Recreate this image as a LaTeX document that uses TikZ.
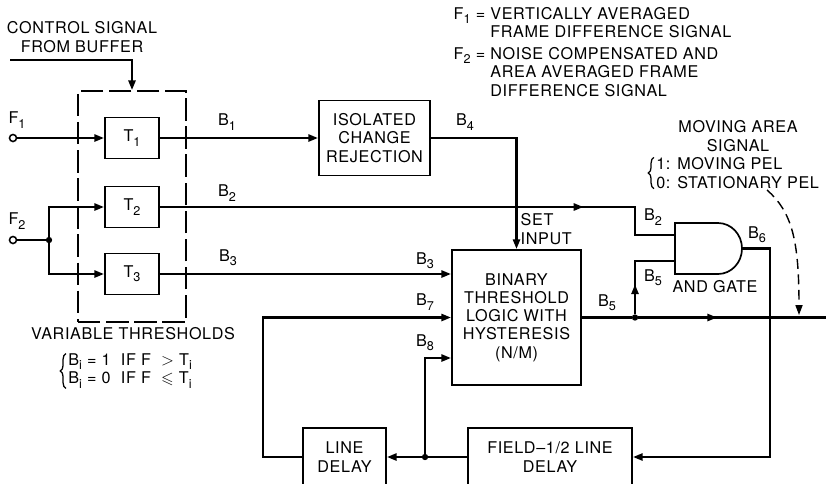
\documentclass[tikz,border=0pt]{standalone}
\usepackage{amssymb}
\usepackage{fontspec}
\setmainfont{TeX Gyre Heros}[LetterSpace=4]
\usetikzlibrary{arrows.meta,decorations.markings,decorations.pathreplacing,calc}

\newcommand{\lowidx}[1]{\raisebox{-0.5ex}{\fontsize{9}{9}\selectfont #1}}

\begin{document}
\begin{tikzpicture}[x=0.025cm, y=-0.025cm, font=\fontsize{11.5}{13}\selectfont]
% Define common styles
\tikzset{
    thresh/.style={draw, line width=1.2pt, minimum width=1.35cm, minimum height=1.025cm, inner sep=0pt},
    block/.style={draw, line width=1.2pt, align=center, inner sep=0pt},
    sig/.style={line width=2pt},
    arrow/.style={sig, -{Triangle[length=7pt, width=5pt]}},
    midarrow/.style={sig, postaction={decorate},
        decoration={markings, mark=at position #1 with {\arrow{Triangle[length=7pt, width=5pt]}}}},
    label/.style={align=center, inner sep=1pt},
    cases/.style={anchor=west, align=left, inner sep=0pt},
    curly/.style={line width=0.9pt, decorate, decoration={brace, amplitude=4pt}},
    jdot/.style={circle, fill, inner sep=0pt, minimum size=4.5pt},
    port/.style={circle, draw, line width=1.1pt, fill=white, inner sep=0pt, minimum size=5pt}
}
\useasboundingbox (0,0) rectangle (828,483);

% Control signal and threshold bank
\node[label] (ctl) at (82,37) {CONTROL SIGNAL\\FROM BUFFER};
\node[draw, line width=1.1pt, dash pattern=on 16pt off 4pt, minimum width=2.7cm, minimum height=5.775cm] (tbox) at (132,206.5) {};
\coordinate (ctlstart) at (10,60);
\draw[arrow] (ctlstart) -| (tbox.north);

\node[thresh] (t1) at (132,138) {T\lowidx1};
\node[thresh] (t2) at (132,207) {T\lowidx2};
\node[thresh] (t3) at (132,274) {T\lowidx3};

\node[label] (vt) at (133,334) {VARIABLE THRESHOLDS};
\node[cases] (vtcases) at (68,371) {B\lowidx{i} = 1\ \ IF F\ \ $>$ T\lowidx{i}\\B\lowidx{i} = 0\ \ IF F\ \ $\leqslant$ T\lowidx{i}};
\draw[curly] ([xshift=-1.5pt]vtcases.south west) -- ([xshift=-1.5pt]vtcases.north west);

% Inputs
\node[port] (f1) at (13,138) {};
\node[port] (f2) at (13,240) {};
\node[label] (f1lbl) at (17,120) {F\lowidx1};
\node[label] (f2lbl) at (17,221) {F\lowidx2};
\node[jdot] (jf2) at (49,240) {};

\draw[arrow] (f1) -- (t1);
\draw[sig] (f2) -- (jf2);
\draw[arrow] (jf2) |- (t2);
\draw[arrow] (jf2) |- (t3);

% Definitions
\node[label, anchor=north west] (def1) at (452,5) {\begin{tabular}{@{}l@{ }l@{}}F\lowidx1 =& VERTICALLY AVERAGED\\ & FRAME DIFFERENCE SIGNAL\end{tabular}};
\node[label, anchor=north west] (def2) at (452,45) {\begin{tabular}{@{}l@{ }l@{}}F\lowidx2 =& NOISE COMPENSATED AND\\ & AREA AVERAGED FRAME\\ & DIFFERENCE SIGNAL\end{tabular}};

% Blocks
\node[block, minimum width=2.775cm, minimum height=1.875cm] (iso) at (374.5,138) {ISOLATED\\CHANGE\\REJECTION};
\node[block, minimum width=3.225cm, minimum height=3.375cm] (bt) at (516.5,317.5) {BINARY\\THRESHOLD\\LOGIC WITH\\HYSTERESIS\\(N/M)};
\node[block, minimum width=2.075cm, minimum height=1.45cm] (ld) at (344.5,457) {LINE\\DELAY};
\node[block, minimum width=4.1cm, minimum height=1.45cm] (field) at (550,457) {FIELD--1/2 LINE\\DELAY};

% AND gate
\draw[line width=1.2pt] (675,223) -- (718,223) arc[start angle=90, end angle=-90, x radius=0.6cm, y radius=0.6375cm] -- (675,274) -- cycle;
\coordinate (gin1) at (675,235);
\coordinate (gin2) at (675,261);
\coordinate (gout) at (742,248.5);
\node[label] (andlbl) at (715,287) {AND GATE};

% Signal paths
\draw[arrow] (t1) -- (iso);
\draw[arrow] (iso.east) -| (bt.north);
\draw[arrow] (t3.east) -- (t3.east -| bt.west);

\node[jdot] (j5) at (635,317.5) {};
\coordinate (sigout) at (826,317.5);
\draw[sig] (bt.east) -- (j5);
\draw[midarrow=0.42] (j5) -- (sigout);
\draw[midarrow=0.32] (j5) |- (gin2);
\draw[midarrow=0.78] (t2.east) -- (t2.east -| j5) |- (gin1);

\coordinate (fbk) at (770,457);
\draw[sig, -{Triangle[length=7pt, width=5pt]}] (gout) -| (fbk) -- (field);

\node[jdot] (j8) at (425,457) {};
\draw[sig] (field) -- (j8);
\draw[arrow] (j8) -- (ld);
\draw[arrow] (j8) |- ($(bt.west)+(0,40.5)$);
\coordinate (lp) at (263,457);
\draw[arrow] (ld) -- (lp) |- (bt.west);

% Signal labels
\node[label] (lb1) at (227,122) {B\lowidx1};
\node[label] (lb2) at (227,193) {B\lowidx2};
\node[label] (lb3) at (228,258) {B\lowidx3};
\node[label] (lb4) at (465,122) {B\lowidx4};
\node[label] (lb3b) at (425,261) {B\lowidx3};
\node[label] (lb7) at (425,302) {B\lowidx7};
\node[label] (lb8) at (425,343) {B\lowidx8};
\node[label] (lb5) at (607,303) {B\lowidx5};
\node[label] (lb2b) at (653,217) {B\lowidx2};
\node[label] (lb5b) at (653,278) {B\lowidx5};
\node[label] (lb6) at (757,235) {B\lowidx6};
\node[label, anchor=west, align=left] (setin) at (519,229) {SET\\INPUT};

% Moving area signal
\node[label] (mas) at (738,136) {MOVING AREA\\SIGNAL};
\node[cases] (mascases) at (656,173) {1: MOVING PEL\\0: STATIONARY PEL};
\draw[curly] ([xshift=-1.5pt]mascases.south west) -- ([xshift=-1.5pt]mascases.north west);
\coordinate (mastail) at (767,190);
\coordinate (mashead) at (799,315);
\draw[line width=1pt, dash pattern=on 7pt off 4pt, -{Triangle[length=7pt, width=5pt]}] (mastail) .. controls (792,212) and (799,240) .. (mashead);

\end{tikzpicture}
\end{document}
